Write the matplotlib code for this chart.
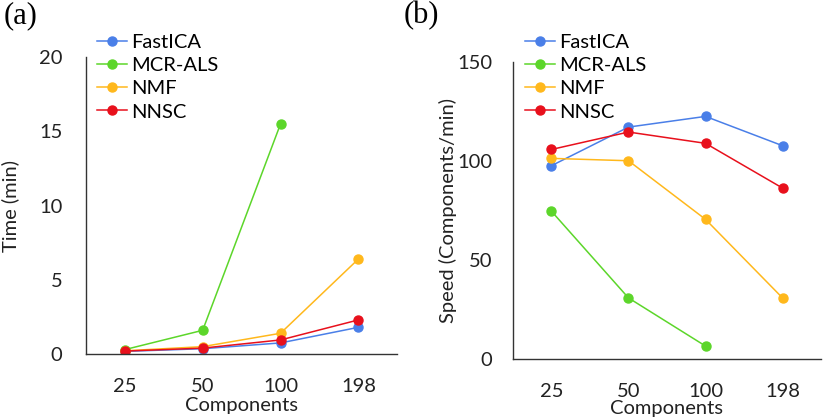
import matplotlib
matplotlib.use('Agg')
import matplotlib.pyplot as plt
import numpy as np

components = ['25', '50', '100', '198']
methods = ['FastICA', 'MCR-ALS', 'NMF', 'NNSC']
colors = ['#4A7FE8', '#5CD62A', '#FFB81C', '#E8101C']

# (a) time in minutes
time_fastica = [0.18, 0.36, 0.75, 1.8]
time_mcr = [0.3, 1.6, 15.5]
time_nmf = [0.22, 0.5, 1.4, 6.4]
time_nnsc = [0.2, 0.4, 0.95, 2.3]

# (b) speed in components/min
speed_fastica = [97.7, 117.2, 122.6, 107.8]
speed_mcr = [74.7, 30.9, 6.6]
speed_nmf = [101.4, 100.2, 70.6, 30.9]
speed_nnsc = [105.9, 114.7, 109.0, 86.4]

plt.rcParams['font.family'] = ['Lato', 'DejaVu Sans']
FS = 14.5

fig = plt.figure(figsize=(8.26, 4.2), dpi=100)
ax1 = fig.add_axes([0.104, 0.157, 0.377, 0.707])
ax2 = fig.add_axes([0.621, 0.145, 0.373, 0.707])


def draw_panel(ax, series, ymax, yticks, ylabel, legend_x, ypad, ylabelpad, xlabelpad):
    x = np.arange(len(components))
    for name, vals, c in zip(methods, series, colors):
        ax.plot(x[:len(vals)], vals, color=c, lw=1.1, marker='o', ms=6.5, label=name)
    ax.set_xlim(-0.5, 3.5)
    ax.set_ylim(0, ymax)
    ax.set_xticks(x)
    ax.set_xticklabels(components)
    ax.set_yticks(yticks)
    ax.tick_params(length=0, labelsize=FS, colors='#222222', pad=17)
    ax.tick_params(axis='y', pad=ypad)
    for s in ['top', 'right']:
        ax.spines[s].set_visible(False)
    for s in ['left', 'bottom']:
        ax.spines[s].set_color('#333333')
        ax.spines[s].set_linewidth(1.0)
    ax.set_xlabel('Components', fontsize=FS, color='#222222', labelpad=xlabelpad)
    ax.set_ylabel(ylabel, fontsize=FS, color='#222222', labelpad=ylabelpad)
    ax.legend(loc='upper left', bbox_to_anchor=(legend_x, 1 - 34 / 420),
              bbox_transform=fig.transFigure, frameon=False, fontsize=FS,
              handlelength=1.5, handletextpad=0.2, labelspacing=0.3,
              borderpad=0, borderaxespad=0)


draw_panel(ax1, [time_fastica, time_mcr, time_nmf, time_nnsc], 20,
           [0, 5, 10, 15, 20], 'Time (min)', 97 / 826, 17, 14, 2)
draw_panel(ax2, [speed_fastica, speed_mcr, speed_nmf, speed_nnsc], 150,
           [0, 50, 100, 150], 'Speed (Components/min)', 525 / 826, 15, 0, 0)

fig.text(4 / 826, 1 - 1 / 420, '(a)', fontsize=22, family='Liberation Serif', va='top')
fig.text(404 / 826, 1 - 1 / 420, '(b)', fontsize=22, family='Liberation Serif', va='top')

plt.savefig('out.png', dpi=100)
